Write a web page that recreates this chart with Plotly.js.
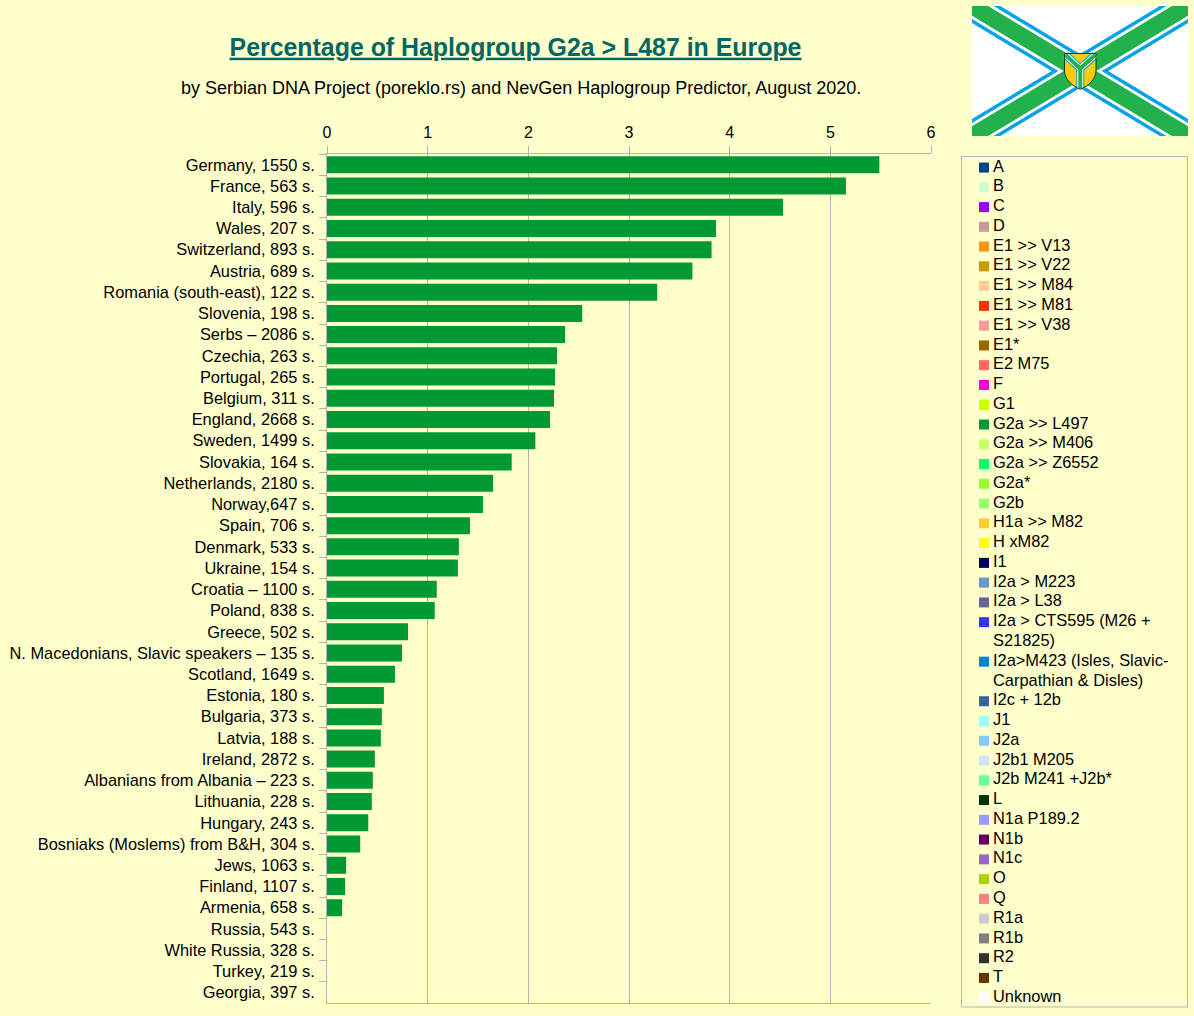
<!DOCTYPE html>
<html>
<head>
<meta charset="utf-8">
<style>html,body{margin:0;padding:0;background:#ffffcc;overflow:hidden}</style>
<script src="https://cdn.plot.ly/plotly-3.0.1.min.js"></script>
</head>
<body>
<div id="chart" style="width:1194px;height:1016px"></div>
<script>
const categories = ["Germany, 1550 s.","France, 563 s.","Italy, 596 s.","Wales, 207 s.","Switzerland, 893 s.","Austria, 689 s.","Romania (south-east), 122 s.","Slovenia, 198 s.","Serbs – 2086 s.","Czechia, 263 s.","Portugal, 265 s.","Belgium, 311 s.","England, 2668 s.","Sweden, 1499 s.","Slovakia, 164 s.","Netherlands, 2180 s.","Norway,647 s.","Spain, 706 s.","Denmark, 533 s.","Ukraine, 154 s.","Croatia – 1100 s.","Poland, 838 s.","Greece, 502 s.","N. Macedonians, Slavic speakers – 135 s.","Scotland, 1649 s.","Estonia, 180 s.","Bulgaria, 373 s.","Latvia, 188 s.","Ireland, 2872 s.","Albanians from Albania – 223 s.","Lithuania, 228 s.","Hungary, 243 s.","Bosniaks (Moslems) from B&H, 304 s.","Jews, 1063 s.","Finland, 1107 s.","Armenia, 658 s.","Russia, 543 s.","White Russia, 328 s.","Turkey, 219 s.","Georgia, 397 s."];
const values = [5.487,5.155,4.53,3.865,3.82,3.63,3.28,2.535,2.365,2.285,2.265,2.255,2.215,2.07,1.835,1.65,1.55,1.42,1.31,1.30,1.09,1.07,0.805,0.745,0.675,0.565,0.545,0.535,0.475,0.455,0.445,0.41,0.33,0.19,0.18,0.15,0,0,0,0];
const xTicks = [0,1,2,3,4,5,6];
const legendLabels = ["A","B","C","D","E1 >> V13","E1 >> V22","E1 >> M84","E1 >> M81","E1 >> V38","E1*","E2 M75","F","G1","G2a >> L497","G2a >> M406","G2a >> Z6552","G2a*","G2b","H1a >> M82","H xM82","I1","I2a > M223","I2a > L38","I2a > CTS595 (M26 +\nS21825)","I2a>M423 (Isles, Slavic-\nCarpathian & Disles)","I2c + 12b","J1","J2a","J2b1 M205","J2b M241 +J2b*","L","N1a P189.2","N1b","N1c","O","Q","R1a","R1b","R2","T","Unknown"];
const legendColors = ["#004586","#ccffcc","#9900ff","#cc9999","#ff950e","#cc9900","#ffcc99","#ff3300","#ff9999","#996600","#ff6666","#ff00cc","#ccff00","#009933","#ccff66","#00ff66","#99ff33","#99ff66","#ffcc33","#ffff00","#000066","#6699cc","#666699","#3333ff","#0084d1","#336699","#99ffff","#83caff","#cfe7f5","#66ff99","#003300","#9999ff","#660066","#9966cc","#aecf00","#ff8080","#cccccc","#808080","#333333","#663300","#ffffff"];

const W = 1194, H = 1016;
const FONT = '"Liberation Sans", Arial, sans-serif';
const px = x => x / W, py = y => 1 - y / H;
const GRID = '#b3b3b3';

// legend rows: wrapped labels occupy an extra row
const swatchY = [], textY = [], textLines = [];
let row = 0;
legendLabels.forEach(l => {
  swatchY.push(row);
  l.split('\n').forEach(t => { textY.push(row); textLines.push(t); row++; });
});

const traces = [
  {type:'bar', orientation:'h', x:values, y:categories, width:0.8,
   marker:{color:legendColors[legendLabels.indexOf('G2a >> L497')], line:{width:0}}, hoverinfo:'x+y', showlegend:false},
  {type:'scatter', mode:'markers', xaxis:'x2', yaxis:'y2', x:swatchY.map(()=>0.1013), y:swatchY,
   marker:{symbol:'square', size:10, color:legendColors, line:{width:0}}, hoverinfo:'skip', showlegend:false},
  {type:'scatter', mode:'text', xaxis:'x2', yaxis:'y2', x:textY.map(()=>0.141), y:textY, text:textLines,
   textposition:'middle right', textfont:{family:FONT,size:16.4,color:'#000'}, hoverinfo:'skip', showlegend:false}
];

const P = (x,y) => `${px(x)},${py(y)}`;
const FL = 972, FR = 1188, FT = 6, FB = 136, S = (FB-FT)/(FR-FL);
function band(t, flip){
  const d = t/S;
  let pts = [[FL,FT],[FL+d,FT],[FR,FB-t],[FR,FB],[FR-d,FB],[FL,FT+t]];
  if(flip) pts = pts.map(p => [FL+FR-p[0], p[1]]);
  return 'M' + pts.map(p => P(p[0],p[1])).join('L') + 'Z';
}
const pathShape = (d, fill, line, lw) => ({type:'path', xref:'paper', yref:'paper', path:d,
  fillcolor:fill||'rgba(0,0,0,0)', line:{color:line||'rgba(0,0,0,0)', width:lw||0}, layer:'above'});
const flagShapes = [
  {type:'rect', xref:'paper', yref:'paper', x0:px(FL), x1:px(FR), y0:py(FT), y1:py(FB), fillcolor:'#ffffff', line:{width:0}, layer:'above'}
];
[[17,'#00a2e8'],[13,'#ffffff'],[9.7,'#22b14c']].forEach(([t,c]) => {
  flagShapes.push(pathShape(band(t,false),c));
  flagShapes.push(pathShape(band(t,true),c));
});
const shield = 'M'+P(1064.5,53.5)+'L'+P(1096,53.5)+'L'+P(1096,70)+'C'+P(1096,80)+' '+P(1088,86)+' '+P(1080.3,89.3)+'C'+P(1072.5,86)+' '+P(1064.5,80)+' '+P(1064.5,70)+'Z';
const yShape = 'M'+P(1065.5,55)+'L'+P(1080.3,68.5)+'L'+P(1095,55)+'M'+P(1080.3,68.5)+'L'+P(1080.3,88.5);
flagShapes.push(pathShape(shield,'#ffc90e'));
flagShapes.push(pathShape(yShape,null,'#00a2e8',8));
flagShapes.push(pathShape(yShape,null,'#ffffff',6));
flagShapes.push(pathShape(yShape,null,'#22b14c',4));
flagShapes.push(pathShape(shield,null,'#1a3a1a',1));

const layout = {
  width:W, height:H, margin:{l:0,r:0,t:0,b:0},
  paper_bgcolor:'#ffffcc', plot_bgcolor:'#ffffcc',
  font:{family:FONT,size:16,color:'#000'},
  showlegend:false, barmode:'stack', hovermode:'closest',
  title:{text:'Percentage of Haplogroup G2a > L487 in Europe', xref:'paper', yref:'paper',
    x:px(515.5), y:py(47), xanchor:'center', yanchor:'middle',
    font:{family:FONT,size:24.9,color:'#006666',weight:700,lineposition:'under'}},
  annotations:[{text:'by Serbian DNA Project (poreklo.rs) and NevGen Haplogroup Predictor, August 2020.',
    xref:'paper',yref:'paper',x:px(520.5),y:py(88),xanchor:'center',yanchor:'middle',showarrow:false,
    font:{family:FONT,size:18,color:'#000'}}],
  xaxis:{domain:[px(327),px(931)], range:[0,6], side:'top', anchor:'y', tickmode:'array', tickvals:xTicks, ticktext:xTicks.map(String),
    ticks:'outside', ticklen:7, tickcolor:GRID, tickwidth:1, ticklabelstandoff:2, showgrid:true, gridcolor:GRID, gridwidth:1,
    showline:true, linecolor:GRID, linewidth:1, mirror:true, zeroline:false, tickfont:{family:FONT,size:16,color:'#000'}},
  yaxis:{domain:[py(1003.2),py(154.2)], type:'category', categoryorder:'array', categoryarray:categories, range:[39.5,-0.5], anchor:'x',
    tickson:'boundaries', ticks:'outside', ticklen:7, tickcolor:GRID, tickwidth:1, ticklabelstandoff:8, showgrid:false,
    showline:true, linecolor:GRID, linewidth:1, zeroline:false, tickfont:{family:FONT,size:16.4,color:'#000'}, automargin:false},
  xaxis2:{domain:[px(961),px(1188)], range:[0,1], anchor:'y2', visible:false, fixedrange:true},
  yaxis2:{domain:[py(1007),py(156)], range:[42.47,-0.585], anchor:'x2', visible:false, fixedrange:true},
  shapes:[{type:'rect', xref:'paper', yref:'paper', x0:px(961.5), x1:px(1187.5), y0:py(156.5), y1:py(1007), line:{color:GRID,width:1}, fillcolor:'rgba(0,0,0,0)', layer:'below'}].concat(flagShapes)
};
Plotly.newPlot('chart', traces, layout, {displayModeBar:false, responsive:false});
</script>
</body>
</html>
